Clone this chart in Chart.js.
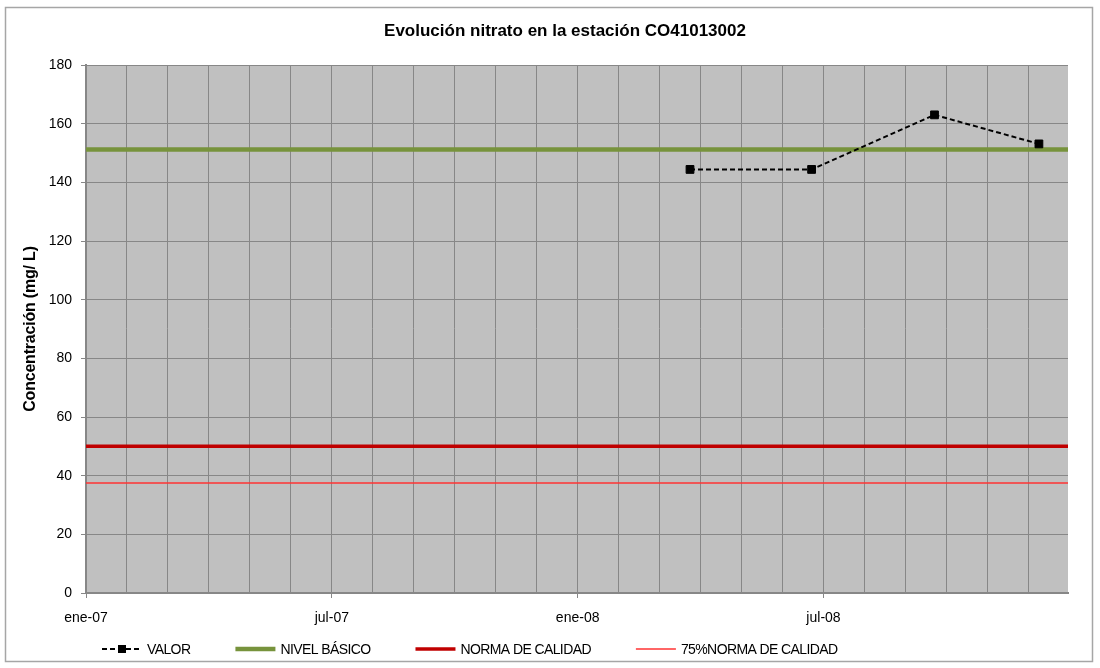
<!DOCTYPE html>
<html>
<head>
<meta charset="utf-8">
<script src="https://cdn.jsdelivr.net/npm/chart.js@4.4.1/dist/chart.umd.min.js"></script>
<style>
  html, body { margin: 0; padding: 0; background: #ffffff; }
  #wrap { width: 1100px; height: 668px; position: relative; }
</style>
</head>
<body>
<div id="wrap"><canvas id="c" width="1100" height="668"></canvas></div>
<script>
// ---------- data ----------
const chartTitle = 'Evolución nitrato en la estación CO41013002';
const yAxisTitle = 'Concentración (mg/ L)';
const axisStart = '2007-01-01';
const axisEnd = '2009-01-13';
const valorDates = ['2008-04-02', '2008-07-03', '2008-10-04', '2008-12-22'];
const valorValues = [144.4, 144.4, 163.0, 153.1];
const refDates = [axisStart, axisEnd];
const nivelBasicoValues = [151.2, 151.2];
const normaCalidadValues = [50, 50];
const norma75Values = [37.5, 37.5];
const seriesLabels = ['VALOR', 'NIVEL BÁSICO', 'NORMA DE CALIDAD', '75%NORMA DE CALIDAD'];
const monthNames = ['ene', 'feb', 'mar', 'abr', 'may', 'jun', 'jul', 'ago', 'sep', 'oct', 'nov', 'dic'];
const xTickStepDays = 31;
const xTickCount = 24;
const xLabelEvery = 6;
const yMin = 0, yMax = 180, yStep = 20;

// ---------- helpers ----------
const DAY = 86400000;
const t0 = Date.parse(axisStart);
const dayOf = d => (Date.parse(d) - t0) / DAY;
const toPoints = (dates, vals) => dates.map((d, i) => ({ x: dayOf(d), y: vals[i] }));
const fmtDay = v => {
  const d = new Date(t0 + v * DAY);
  return monthNames[d.getUTCMonth()] + '-' + String(d.getUTCFullYear()).slice(2);
};
const FONT = "'Liberation Sans', Arial, sans-serif";

const colors = ['#000000', '#77933c', '#c00000', '#ff3333'];
const widths = [2, 4.5, 3.5, 1.5];

const decorPlugin = {
  id: 'decor',
  beforeDraw(chart) {
    const { ctx, chartArea: a } = chart;
    ctx.save();
    ctx.fillStyle = '#c0c0c0';
    ctx.fillRect(a.left, a.top, a.right - a.left, a.bottom - a.top);
    ctx.restore();
  },
  afterDraw(chart) {
    const ctx = chart.ctx;
    ctx.save();
    // outer border
    ctx.strokeStyle = '#a6a6a6';
    ctx.lineWidth = 1.5;
    ctx.strokeRect(5.5, 7.5, 1087, 654);
    // title
    ctx.fillStyle = '#000';
    ctx.font = 'bold 17px ' + FONT;
    ctx.letterSpacing = '0px';
    ctx.textAlign = 'center';
    ctx.textBaseline = 'middle';
    ctx.fillText(chartTitle, 565, 31);
    // y axis title
    ctx.save();
    ctx.translate(31, 329);
    ctx.rotate(-Math.PI / 2);
    ctx.font = 'bold 16px ' + FONT;
    ctx.letterSpacing = '-0.2px';
    ctx.fillText(yAxisTitle, 0, 0);
    ctx.restore();
    // legend
    ctx.font = '14px ' + FONT;
    ctx.letterSpacing = '-0.6px';
    ctx.textAlign = 'left';
    let x = 102;
    const y = 649;
    chart.data.datasets.forEach((ds, i) => {
      ctx.save();
      ctx.strokeStyle = ds.borderColor;
      ctx.lineWidth = ds.borderWidth;
      if (ds.borderDash) ctx.setLineDash(ds.borderDash);
      ctx.beginPath();
      ctx.moveTo(x, y);
      ctx.lineTo(x + 40, y);
      ctx.stroke();
      if (ds.pointRadius > 0) {
        ctx.setLineDash([]);
        ctx.fillStyle = ds.borderColor;
        ctx.fillRect(x + 20 - 4, y - 4, 8, 8);
      }
      ctx.restore();
      ctx.fillStyle = '#000';
      ctx.fillText(ds.label, x + 45, y + 1);
      x += 45 + ctx.measureText(ds.label).width + 45;
    });
    ctx.restore();
  }
};

const mk = (i, data, extra) => Object.assign({
  label: seriesLabels[i],
  data,
  borderColor: colors[i],
  backgroundColor: colors[i],
  borderWidth: widths[i],
  pointRadius: 0,
  tension: 0,
  fill: false
}, extra || {});

new Chart(document.getElementById('c'), {
  type: 'line',
  data: {
    datasets: [
      mk(0, toPoints(valorDates, valorValues), {
        borderDash: [5, 3],
        pointStyle: 'rect',
        pointRadius: 5.5,
        pointBorderWidth: 1,
        pointBorderColor: '#000',
        pointBackgroundColor: '#000'
      }),
      mk(1, toPoints(refDates, nivelBasicoValues)),
      mk(2, toPoints(refDates, normaCalidadValues)),
      mk(3, toPoints(refDates, norma75Values))
    ]
  },
  options: {
    responsive: false,
    animation: false,
    layout: { padding: { top: 65, left: 0, right: 32, bottom: 0 } },
    plugins: { legend: { display: false }, title: { display: false }, tooltip: { enabled: false } },
    scales: {
      x: {
        type: 'linear',
        min: 0,
        max: dayOf(axisEnd),
        afterBuildTicks: s => { s.ticks = Array.from({ length: xTickCount }, (_, i) => ({ value: i * xTickStepDays })); },
        afterFit: s => { s.height = 75; },
        grid: {
          color: '#878787',
          lineWidth: 1,
          drawTicks: true,
          tickLength: 5,
          tickColor: c => (c.index % xLabelEvery === 0 ? '#878787' : 'rgba(0,0,0,0)')
        },
        border: { color: '#878787', width: 2 },
        ticks: {
          autoSkip: false,
          maxRotation: 0,
          padding: 12,
          color: '#000',
          font: { family: FONT, size: 14 },
          callback: (v, i) => (i % xLabelEvery === 0 ? fmtDay(v) : '')
        }
      },
      y: {
        min: yMin,
        max: yMax,
        afterFit: s => { s.width = 86; },
        grid: { color: '#878787', lineWidth: 1, tickLength: 5 },
        border: { color: '#878787', width: 2 },
        ticks: {
          stepSize: yStep,
          padding: 9,
          color: '#000',
          font: { family: FONT, size: 14 }
        }
      }
    }
  },
  plugins: [decorPlugin]
});
</script>
</body>
</html>
